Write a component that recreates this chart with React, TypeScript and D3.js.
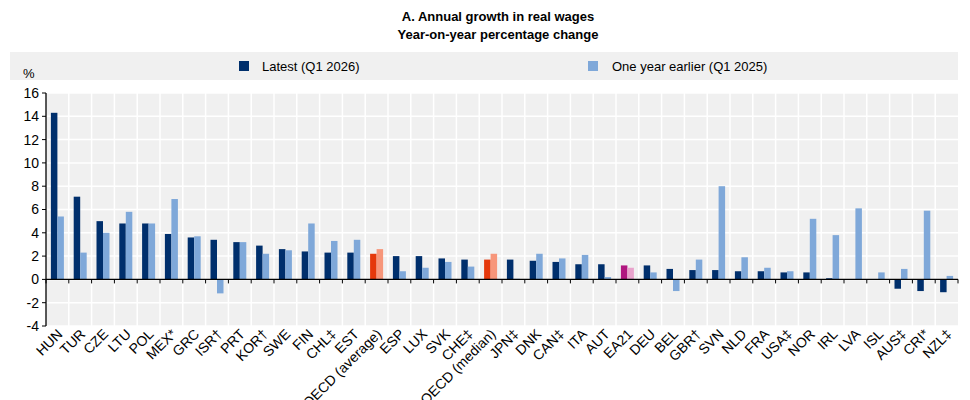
import * as d3 from "d3";

const categories = ["HUN", "TUR", "CZE", "LTU", "POL", "MEX*", "GRC", "ISR†", "PRT", "KOR†", "SWE", "FIN", "CHL‡", "EST", "OECD (average)", "ESP", "LUX", "SVK", "CHE‡", "OECD (median)", "JPN‡", "DNK", "CAN‡", "ITA", "AUT", "EA21", "DEU", "BEL", "GBR†", "SVN", "NLD", "FRA", "USA‡", "NOR", "IRL", "LVA", "ISL", "AUS‡", "CRI*", "NZL‡"];
const latest = [14.3, 7.1, 5.0, 4.8, 4.8, 3.9, 3.6, 3.4, 3.2, 2.9, 2.6, 2.4, 2.3, 2.3, 2.2, 2.0, 2.0, 1.8, 1.7, 1.7, 1.7, 1.6, 1.5, 1.3, 1.3, 1.2, 1.2, 0.9, 0.8, 0.8, 0.7, 0.7, 0.6, 0.6, 0.1, 0.0, 0.0, -0.8, -1.0, -1.1];
const earlier = [5.4, 2.3, 4.0, 5.8, 4.8, 6.9, 3.7, -1.2, 3.2, 2.2, 2.5, 4.8, 3.3, 3.4, 2.6, 0.7, 1.0, 1.5, 1.1, 2.2, 0.05, 2.2, 1.8, 2.1, 0.2, 1.0, 0.6, -1.0, 1.7, 8.0, 1.9, 1.0, 0.7, 5.2, 3.8, 6.1, 0.6, 0.9, 5.9, 0.3];
const yTicks = [-4, -2, 0, 2, 4, 6, 8, 10, 12, 14, 16];

const NAVY = "#002F6C";
const LIGHT = "#7FA8D9";
const special: Record<string, [string, string]> = {
  "OECD (average)": ["#E5380B", "#F7967A"],
  "OECD (median)": ["#E5380B", "#F7967A"],
  EA21: ["#B0167F", "#E9A3CC"],
};

export default function App() {
  const W = 962, H = 392;
  const left = 38, right = 950, top = 85, bottom = 318;
  const x = d3.scaleBand().domain(categories).range([left, right]);
  const y = d3.scaleLinear().domain([-4, 16]).range([bottom, top]);
  const bw = x.bandwidth();
  const barW = 6.5;
  const font = "'Liberation Sans', Arial, sans-serif";

  return (
    <svg width={W} height={H} style={{ display: "block", fontFamily: font }}>
      <text x={W / 2 + 9} y={13} textAnchor="middle" fontSize={13} fontWeight="bold">A. Annual growth in real wages</text>
      <text x={W / 2 + 9} y={31} textAnchor="middle" fontSize={13} fontWeight="bold">Year-on-year percentage change</text>
      <rect x={2} y={44} width={948} height={28} fill="#F0F0F0" />
      <rect x={231} y={53} width={10} height={10} fill={NAVY} />
      <text x={254} y={63} fontSize={13}>Latest (Q1 2026)</text>
      <rect x={580} y={53} width={10} height={10} fill={LIGHT} />
      <text x={604} y={63} fontSize={13}>One year earlier (Q1 2025)</text>
      <text x={15} y={70} fontSize={13}>%</text>

      <rect x={left} y={top} width={right - left} height={bottom - top} fill="#F0F0F0" />
      {yTicks.map((t) => (
        <line key={t} x1={left} x2={right} y1={y(t)} y2={y(t)} stroke="#fff" strokeWidth={1.5} />
      ))}
      {categories.slice(1).map((c) => (
        <line key={c} x1={x(c)!} x2={x(c)!} y1={top} y2={bottom} stroke="#fff" strokeWidth={1.5} />
      ))}

      {categories.map((c, i) => {
        const [c1, c2] = special[c] ?? [NAVY, LIGHT];
        const cx = x(c)! + bw / 2;
        return (
          <g key={c}>
            <rect x={cx - barW} y={y(Math.max(0, latest[i]))} width={barW} height={Math.abs(y(latest[i]) - y(0))} fill={c1} />
            <rect x={cx} y={y(Math.max(0, earlier[i]))} width={barW} height={Math.abs(y(earlier[i]) - y(0))} fill={c2} />
          </g>
        );
      })}

      <line x1={left} x2={right} y1={y(0)} y2={y(0)} stroke="#000" strokeWidth={1.3} />
      {categories.map((c) => (
        <line key={c} x1={x(c)!} x2={x(c)!} y1={y(0)} y2={y(0) + 4} stroke="#000" />
      ))}
      <line x1={right} x2={right} y1={y(0)} y2={y(0) + 4} stroke="#000" />

      <line x1={left} x2={left} y1={top} y2={bottom} stroke="#000" strokeWidth={1.3} />
      {yTicks.map((t) => (
        <g key={t}>
          <line x1={left - 4} x2={left} y1={y(t)} y2={y(t)} stroke="#000" />
          <text x={left - 7} y={y(t)} dy="0.35em" textAnchor="end" fontSize={14}>{t}</text>
        </g>
      ))}

      {categories.map((c) => {
        const cx = x(c)! + bw / 2 + 6;
        const ty = bottom + 9;
        return (
          <text key={c} transform={`translate(${cx},${ty}) rotate(-45)`} textAnchor="end" fontSize={14}>{c}</text>
        );
      })}
    </svg>
  );
}
